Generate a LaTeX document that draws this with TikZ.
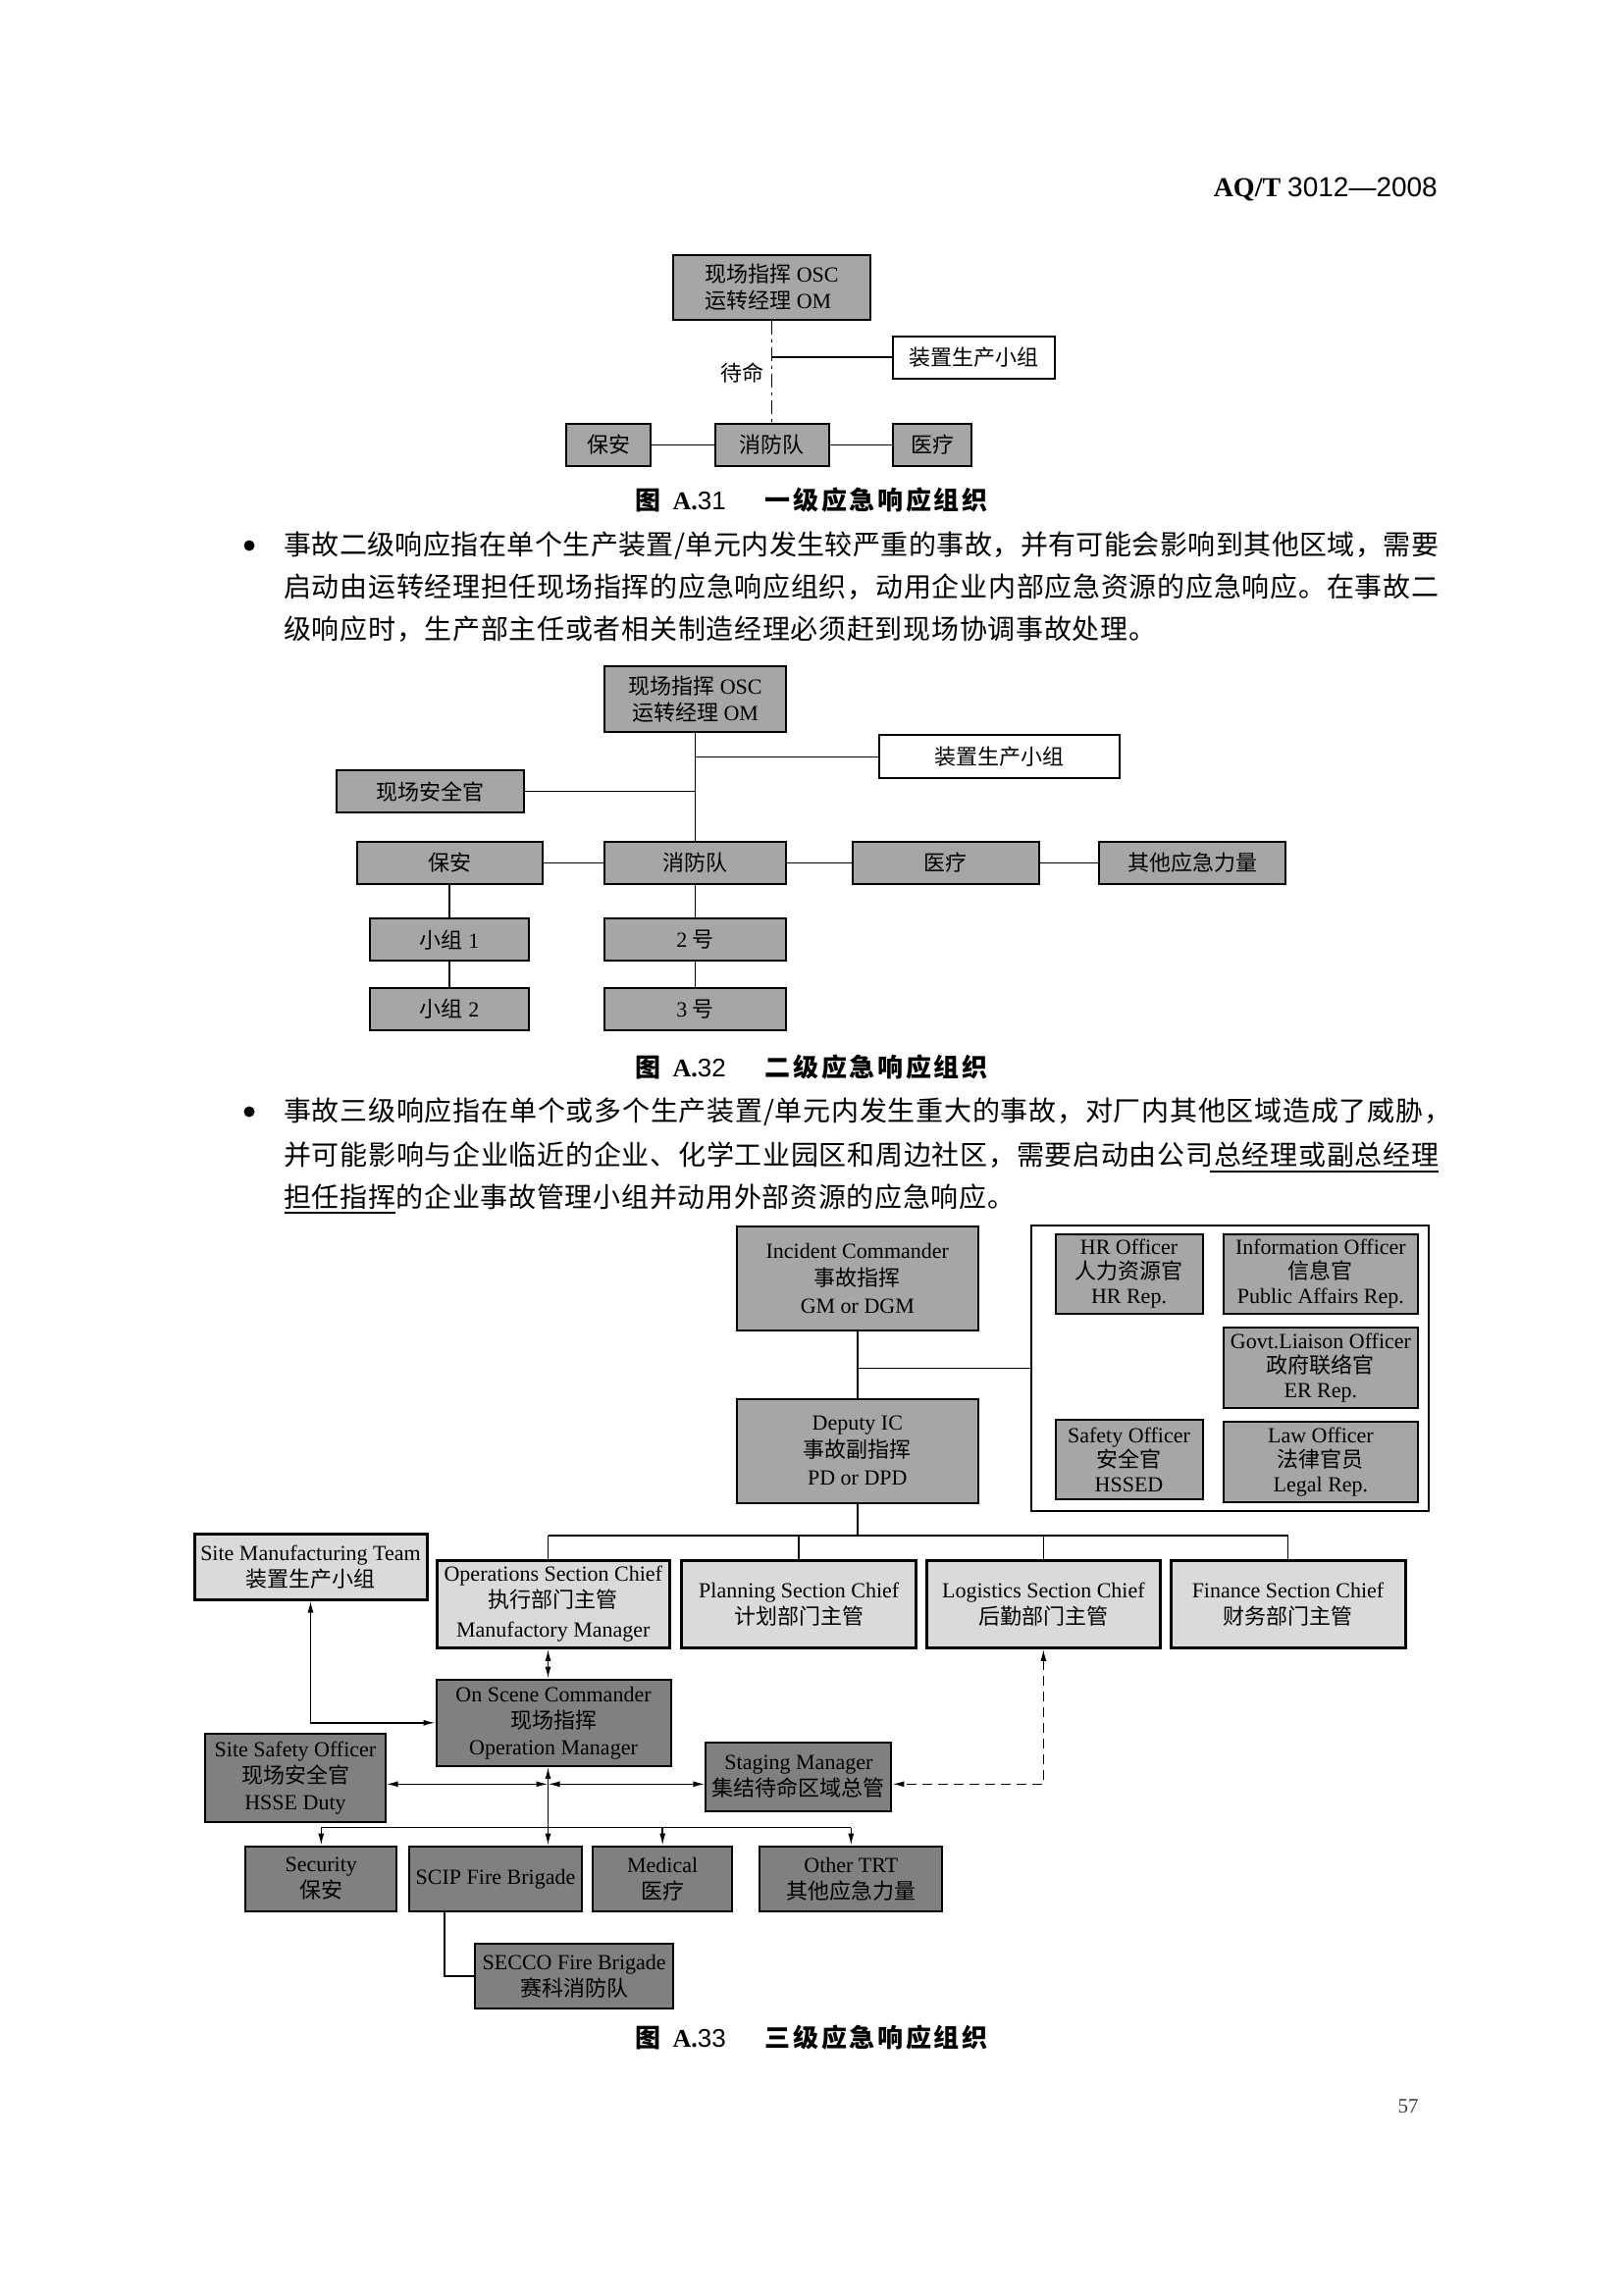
\documentclass[tikz,border=0pt]{standalone}
\usepackage{fontspec}
\setmainfont{Liberation Serif}
\newfontfamily\cjk{Noto Sans CJK SC}
\newfontfamily\sansn{Liberation Sans}
\usetikzlibrary{arrows.meta,calc}
\definecolor{gA}{RGB}{166,166,166}
\definecolor{gL}{RGB}{218,218,218}
\definecolor{gD}{RGB}{128,128,128}
\def\sprd#1{\ifx\relax#1\else#1\hskip 0pt plus 1fil\relax\expandafter\sprd\fi}
\newcommand\jline[2]{\hbox to #1pt{\cjk\sprd#2\relax\unskip}}
\newcommand\figcap[2]{\hbox{\hbox to 38pt{{\cjk\bfseries 图}\hfil}\hbox to 94pt{{\bfseries A.}{\sansn #1}\hfil}\hbox to 227pt{\cjk\bfseries\sprd#2\relax\unskip}}}
\begin{document}
\begin{tikzpicture}[x=1pt,y=-1pt,
  >={Latex[length=12pt,width=6pt]},
  sz/.style 2 args={minimum width=#1, minimum height=#2},
  boxbase/.style={draw=black, line width=2pt, inner sep=0pt, align=center, font=\fontsize{22}{27}\selectfont},
  bxA/.style={boxbase, fill=gA},
  bxW/.style={boxbase, fill=white},
  bxL/.style={boxbase, fill=gL, line width=3pt},
  bxD/.style={boxbase, fill=gD},
  conn/.style={line width=1.5pt},
  dline/.style={dash pattern=on 10pt off 6pt},
  bodytext/.style={anchor=west, inner sep=0pt, font=\fontsize{28}{34}\selectfont},
  captext/.style={anchor=west, inner sep=0pt, font=\fontsize{26}{30}\selectfont},
  bulletdot/.style={circle, fill=black, inner sep=0pt, minimum size=11pt}]
\useasboundingbox (0,0) rectangle (1654,2339);
\fill[white] (0,0) rectangle (1654,2339);

% header
\node[anchor=east, inner sep=0pt, font=\fontsize{28}{30}\selectfont] (hdr) at (1465,193) {\textbf{AQ/T} {\sansn 3012—2008}};

% ===== Figure A.31 =====
\node[bxA, sz={201}{66}, align=left] (a31top) at (786.5,292.6) {{\cjk 现场指挥} OSC\\{\cjk 运转经理} OM};
\node[bxW, sz={165}{43}] (a31prod) at (992.5,364.2) {\cjk 装置生产小组};
\node[bxA, sz={86}{43}] (a31sec) at (620,453.3) {\cjk 保安};
\node[bxA, sz={116}{43}] (a31fire) at (786.5,453.3) {\cjk 消防队};
\node[bxA, sz={80}{43}] (a31med) at (950,453.3) {\cjk 医疗};
\node[inner sep=0pt, font=\fontsize{22}{24}\selectfont] (a31wait) at (756,380) {\cjk 待命};
\draw[conn, dash pattern=on 14pt off 5pt on 3pt off 5pt] (a31top.south) -- (a31fire.north);
\draw[conn] (a31prod.west) -- (a31prod.west -| a31top.south);
\draw[conn] (a31sec) -- (a31fire);
\draw[conn] (a31fire) -- (a31med);
\node[captext] (c31) at (647.5,510) {\figcap{31}{一级应急响应组织}};

% ===== bullet 1 =====
\node[bulletdot] (bul1) at (254,556) {};
\node[bodytext] (p1a) at (289,556) {\jline{1177}{事故二级响应指在单个生产装置/单元内发生较严重的事故，并有可能会影响到其他区域，需要}};
\node[bodytext] (p1b) at (289,598) {\jline{1177}{启动由运转经理担任现场指挥的应急响应组织，动用企业内部应急资源的应急响应。在事故二}};
\node[bodytext] (p1c) at (289,641) {\jline{889}{级响应时，生产部主任或者相关制造经理必须赶到现场协调事故处理。}};

% ===== Figure A.32 =====
\node[bxA, sz={185}{67}] (a32top) at (708.5,712.3) {{\cjk 现场指挥} OSC\\{\cjk 运转经理} OM};
\node[bxW, sz={245}{44}] (a32prod) at (1018.5,771.3) {\cjk 装置生产小组};
\node[bxA, sz={191}{43}] (a32safe) at (438,806.7) {\cjk 现场安全官};
\node[bxA, sz={189}{43}] (a32sec) at (458,879.3) {\cjk 保安};
\node[bxA, sz={185}{43}] (a32fire) at (708.5,879.3) {\cjk 消防队};
\node[bxA, sz={190}{43}] (a32med) at (963.5,879.3) {\cjk 医疗};
\node[bxA, sz={190}{43}] (a32oth) at (1215,879.3) {\cjk 其他应急力量};
\node[bxA, sz={162}{43}] (a32g1) at (458,957.7) {{\cjk 小组} 1};
\node[bxA, sz={162}{43}] (a32g2) at (458,1028.3) {{\cjk 小组} 2};
\node[bxA, sz={185}{43}] (a32n2) at (708.5,957.7) {2 {\cjk 号}};
\node[bxA, sz={185}{43}] (a32n3) at (708.5,1028.3) {3 {\cjk 号}};
\draw[conn] (a32top) -- (a32fire);
\draw[conn] (a32prod.west) -- (a32prod.west -| a32top.south);
\draw[conn] (a32safe.east) -- (a32safe.east -| a32top.south);
\draw[conn] (a32sec) -- (a32fire);
\draw[conn] (a32fire) -- (a32med);
\draw[conn] (a32med) -- (a32oth);
\draw[conn] (a32sec) -- (a32g1);
\draw[conn] (a32g1) -- (a32g2);
\draw[conn] (a32fire) -- (a32n2);
\draw[conn] (a32n2) -- (a32n3);
\node[captext] (c32) at (647.5,1088) {\figcap{32}{二级应急响应组织}};

% ===== bullet 2 =====
\node[bulletdot] (bul2) at (254,1133) {};
\node[bodytext] (p2a) at (289,1133) {\jline{1190}{事故三级响应指在单个或多个生产装置/单元内发生重大的事故，对厂内其他区域造成了威胁，}};
\node[bodytext] (p2b) at (289,1177) {\jline{1177}{并可能影响与企业临近的企业、化学工业园区和周边社区，需要启动由公司总经理或副总经理}};
\node[bodytext] (p2c) at (289,1220) {\jline{745}{担任指挥的企业事故管理小组并动用外部资源的应急响应。}};
\draw[line width=1.4pt] (1233,1194) -- (1466,1194);
\draw[line width=1.4pt] (290,1236) -- (403,1236);

% ===== Figure A.33 =====
\node[bxA, sz={245.6}{106}, font=\fontsize{22}{28}\selectfont] (ic) at (873.8,1303) {Incident Commander\\{\cjk 事故指挥}\\GM or DGM};
\node[bxA, sz={245.6}{106}, font=\fontsize{22}{28}\selectfont] (dic) at (873.8,1478.8) {Deputy IC\\{\cjk 事故副指挥}\\PD or DPD};
\node[draw=black, line width=2.5pt, fill=white, sz={404.8}{291}, inner sep=0pt] (big) at (1253.4,1394.5) {};
\node[bxA, sz={150}{81.6}, font=\fontsize{22}{25}\selectfont] (hr) at (1150.5,1298.5) {HR Officer\\{\cjk 人力资源官}\\HR Rep.};
\node[bxA, sz={198.2}{81.6}, font=\fontsize{22}{25}\selectfont] (info) at (1345.9,1298.5) {Information Officer\\{\cjk 信息官}\\Public Affairs Rep.};
\node[bxA, sz={198.2}{81.6}, font=\fontsize{22}{25}\selectfont] (govt) at (1345.9,1394.2) {Govt.Liaison Officer\\{\cjk 政府联络官}\\ER Rep.};
\node[bxA, sz={150}{81.6}, font=\fontsize{22}{25}\selectfont] (safe) at (1150.5,1487.5) {Safety Officer\\{\cjk 安全官}\\HSSED};
\node[bxA, sz={198.2}{81.6}, font=\fontsize{22}{25}\selectfont] (law) at (1345.9,1490.2) {Law Officer\\{\cjk 法律官员}\\Legal Rep.};

\node[bxL, sz={237}{66.7}] (smt) at (316.5,1596.7) {Site Manufacturing Team\\{\cjk 装置生产小组}};
\node[bxL, sz={236.4}{89.3}] (ops) at (563.8,1634.7) {Operations Section Chief\\{\cjk 执行部门主管}\\[3pt]Manufactory Manager};
\node[bxL, sz={238.8}{89.3}] (pln) at (814.2,1634.7) {Planning Section Chief\\{\cjk 计划部门主管}};
\node[bxL, sz={238.8}{89.3}] (log) at (1063.4,1634.7) {Logistics Section Chief\\{\cjk 后勤部门主管}};
\node[bxL, sz={239}{89.3}] (fin) at (1312.5,1634.7) {Finance Section Chief\\{\cjk 财务部门主管}};

\node[bxD, sz={239}{88.3}] (osc) at (564,1755.8) {On Scene Commander\\{\cjk 现场指挥}\\Operation Manager};
\node[bxD, sz={183.2}{90.6}] (sso) at (301,1812) {Site Safety Officer\\{\cjk 现场安全官}\\HSSE Duty};
\node[bxD, sz={189.1}{70}] (stg) at (813.9,1811) {Staging Manager\\{\cjk 集结待命区域总管}};
\node[bxD, sz={154}{66.7}] (sec) at (327.3,1915) {Security\\{\cjk 保安}};
\node[bxD, sz={176}{66.7}] (scip) at (505,1915) {SCIP Fire Brigade};
\node[bxD, sz={141.7}{66.7}] (med) at (675.2,1915) {Medical\\{\cjk 医疗}};
\node[bxD, sz={186.2}{66.7}] (oth) at (867.3,1915) {Other TRT\\{\cjk 其他应急力量}};
\node[bxD, sz={201.6}{66.6}] (secco) at (585.2,2014) {SECCO Fire Brigade\\{\cjk 赛科消防队}};

\coordinate (bus) at ($(dic.south)+(0,32)$);
\coordinate (jx) at (558.5,1818.3);
\coordinate (dist) at (558.5,1862.7);

\draw[conn] (ic) -- (dic);
\draw[conn] (big.west) -- (big.west -| ic.south);
\draw[conn] (dic.south) -- (bus);
\draw[conn] (bus -| jx) -- (bus -| fin.north);
\draw[conn] (bus -| jx) -- (ops.north -| jx);
\draw[conn] (bus -| pln.north) -- (pln.north);
\draw[conn] (bus -| log.north) -- (log.north);
\draw[conn] (bus -| fin.north) -- (fin.north);

\draw[conn,<->] (ops.south -| jx) -- (osc.north -| jx);
\draw[conn,<->] (smt.south) |- (osc.west);
\draw[conn,<->] (sso.east |- jx) -- (jx);
\draw[conn,<->] (jx) -- (stg.west |- jx);
\draw[conn,->] (dist) -- (osc.south -| jx);
\draw[conn] (dist -| sec.north) -- (dist -| oth.north);
\draw[conn,->] (dist -| sec.north) -- (sec.north);
\draw[conn,->] (dist) -- (dist |- scip.north);
\draw[conn,->] (dist -| med.north) -- (med.north);
\draw[conn,->] (dist -| oth.north) -- (oth.north);
\draw[conn] ($(scip.south west)+(37,0)$) |- (secco.west);
\draw[conn,dline,<->] (log.south) |- (stg.east |- jx);

\node[captext] (c33) at (647.5,2077) {\figcap{33}{三级应急响应组织}};

% page number
\node[inner sep=0pt, font=\fontsize{21}{22}\selectfont, text=black!75] (pg) at (1435,2147) {57};
\end{tikzpicture}
\end{document}
